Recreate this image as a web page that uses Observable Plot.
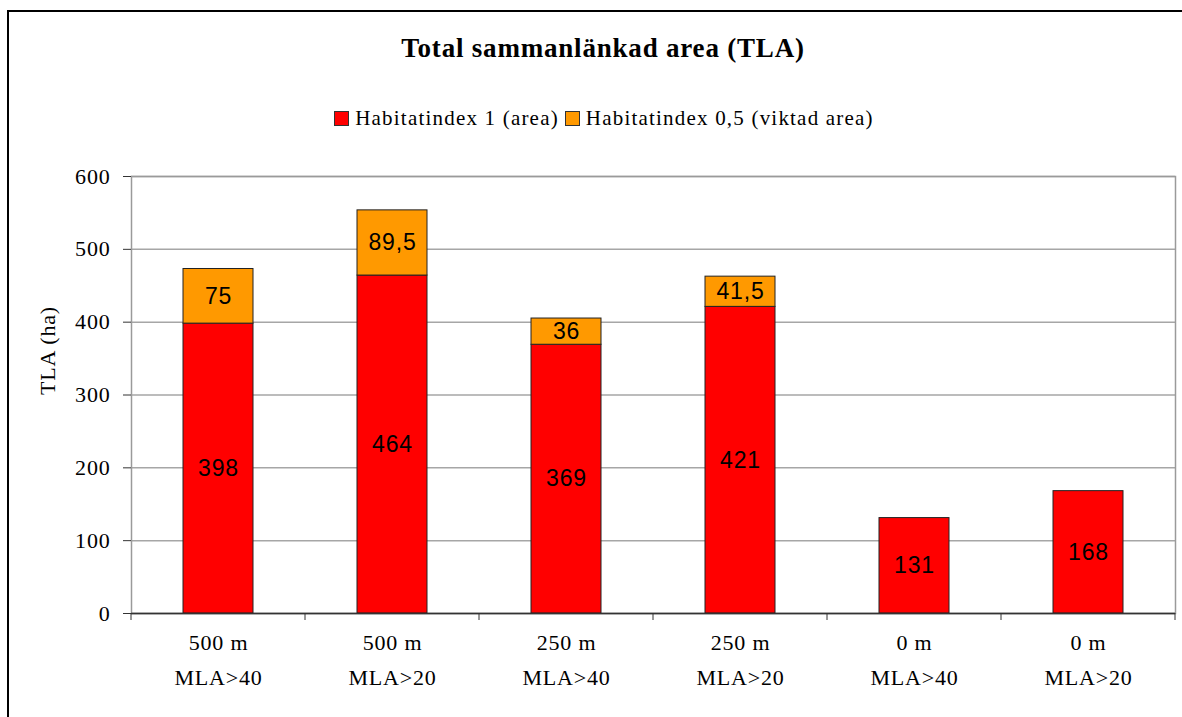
<!DOCTYPE html>
<html>
<head>
<meta charset="utf-8">
<script src="https://cdn.jsdelivr.net/npm/d3@7"></script>
<script src="https://cdn.jsdelivr.net/npm/@observablehq/plot@0.6"></script>
<style>
  html, body { margin: 0; padding: 0; background: #fff; }
  #wrap { position: relative; width: 1182px; height: 717px; overflow: hidden; font-family: "Liberation Serif", "Times New Roman", serif; }
  #border { position: absolute; left: 7px; top: 10px; width: 1200px; height: 760px; border: 2px solid #000; box-sizing: border-box; }
  #title { position: absolute; left: 0; width: 1206px; top: 31px; text-align: center; font-weight: bold; font-size: 27px; letter-spacing: 0.8px; line-height: 34px; }
  #legend { position: absolute; left: 0; width: 1208px; top: 104px; text-align: center; font-size: 21px; letter-spacing: 1.2px; line-height: 28px; }
  #legend .item { display: inline-flex; align-items: center; margin: 0 3px; }
  #legend .sw { display: inline-block; width: 13px; height: 13px; border: 1px solid #333; margin-right: 6px; }
  #chart { position: absolute; left: 0; top: 150px; }
  #chart svg text { letter-spacing: 0.8px; }
</style>
</head>
<body>
<div id="wrap">
  <div id="border"></div>
  <div id="title"></div>
  <div id="legend"></div>
  <div id="chart"></div>
</div>
<script>
const titleText = "Total sammanlänkad area (TLA)";
const yLabel = "TLA (ha)";
const distances = ["500 m", "500 m", "250 m", "250 m", "0 m", "0 m"];
const thresholds = ["MLA>40", "MLA>20", "MLA>40", "MLA>20", "MLA>40", "MLA>20"];
const seriesNames = ["Habitatindex 1 (area)", "Habitatindex 0,5 (viktad area)"];
const seriesColors = ["#FF0000", "#FF9900"];
const habitat1 = [398, 464, 369, 421, 131, 168];
const habitat05 = [75, 89.5, 36, 41.5, 0, 0];
const yTicks = [0, 100, 200, 300, 400, 500, 600];

const serif = "'Liberation Serif', 'Times New Roman', serif";
const sans = "'Liberation Sans', Arial, sans-serif";

const categories = distances.map((d, i) => d + "|" + thresholds[i]);
const rows = [];
categories.forEach((c, i) => {
  rows.push({cat: c, series: seriesNames[0], value: habitat1[i]});
  rows.push({cat: c, series: seriesNames[1], value: habitat05[i]});
});
const fmt = v => String(v).replace(".", ",");

document.getElementById("title").textContent = titleText;
const legend = document.getElementById("legend");
seriesNames.forEach((s, i) => {
  const it = document.createElement("span");
  it.className = "item";
  const sw = document.createElement("span");
  sw.className = "sw";
  sw.style.background = seriesColors[i];
  it.appendChild(sw);
  it.appendChild(document.createTextNode(s));
  legend.appendChild(it);
});

function boundaryTicks() {
  return (index, scales, values, dimensions) => {
    const x = scales.x;
    const step = x(categories[1]) - x(categories[0]);
    const bw = typeof x.bandwidth === "function" ? x.bandwidth() : (x.bandwidth ?? step * 0.4);
    const y0 = dimensions.height - dimensions.marginBottom;
    const xs = categories.map(c => x(c) + bw / 2 - step / 2);
    xs.push(x(categories[categories.length - 1]) + bw / 2 + step / 2);
    const g = d3.create("svg:g");
    g.selectAll("line").data(xs).join("line")
      .attr("x1", d => d).attr("x2", d => d)
      .attr("y1", y0).attr("y2", y0 + 7)
      .attr("stroke", "#333").attr("stroke-width", 1);
    return g.node();
  };
}

const plot = Plot.plot({
  width: 1182,
  height: 567,
  marginLeft: 131,
  marginRight: 7,
  marginTop: 26,
  marginBottom: 104,
  style: `font-family: ${serif}; font-size: 22px; color: #000; background: transparent;`,
  x: {domain: categories, paddingInner: 0.6, paddingOuter: 0.3, axis: null},
  y: {domain: [0, 600], ticks: yTicks, axis: null},
  color: {domain: seriesNames, range: seriesColors},
  marks: [
    Plot.gridY(yTicks, {stroke: "#a6a6a6", strokeOpacity: 1, strokeWidth: 1.5}),
    Plot.frame({stroke: "#9a9a9a", strokeWidth: 1.5}),
    Plot.barY(rows, Plot.stackY({x: "cat", y: "value", fill: "series", stroke: "#222", strokeWidth: 1, filter: d => d.value > 0})),
    Plot.text(rows, Plot.stackY({x: "cat", y: "value", text: d => fmt(d.value), filter: d => d.value > 0,
      fontFamily: sans, fontSize: 23, fill: "#000"})),
    Plot.ruleX([0], {frameAnchor: "left", stroke: "#333", strokeWidth: 1.5}),
    Plot.ruleY([0], {stroke: "#333", strokeWidth: 1.5}),
    Plot.axisY(yTicks, {tickSize: 8, tickPadding: 13, stroke: "#333", fontSize: 22, fontFamily: serif, label: null}),
    boundaryTicks(),
    Plot.text(categories, {x: d => d, text: (d, i) => distances[i], frameAnchor: "bottom", dy: 36, fontSize: 22, fontFamily: serif}),
    Plot.text(categories, {x: d => d, text: (d, i) => thresholds[i], frameAnchor: "bottom", dy: 71, fontSize: 22, fontFamily: serif}),
    Plot.text([yLabel], {frameAnchor: "left", rotate: -90, dx: -84, fontSize: 22, fontFamily: serif})
  ]
});
document.getElementById("chart").appendChild(plot);
</script>
</body>
</html>
